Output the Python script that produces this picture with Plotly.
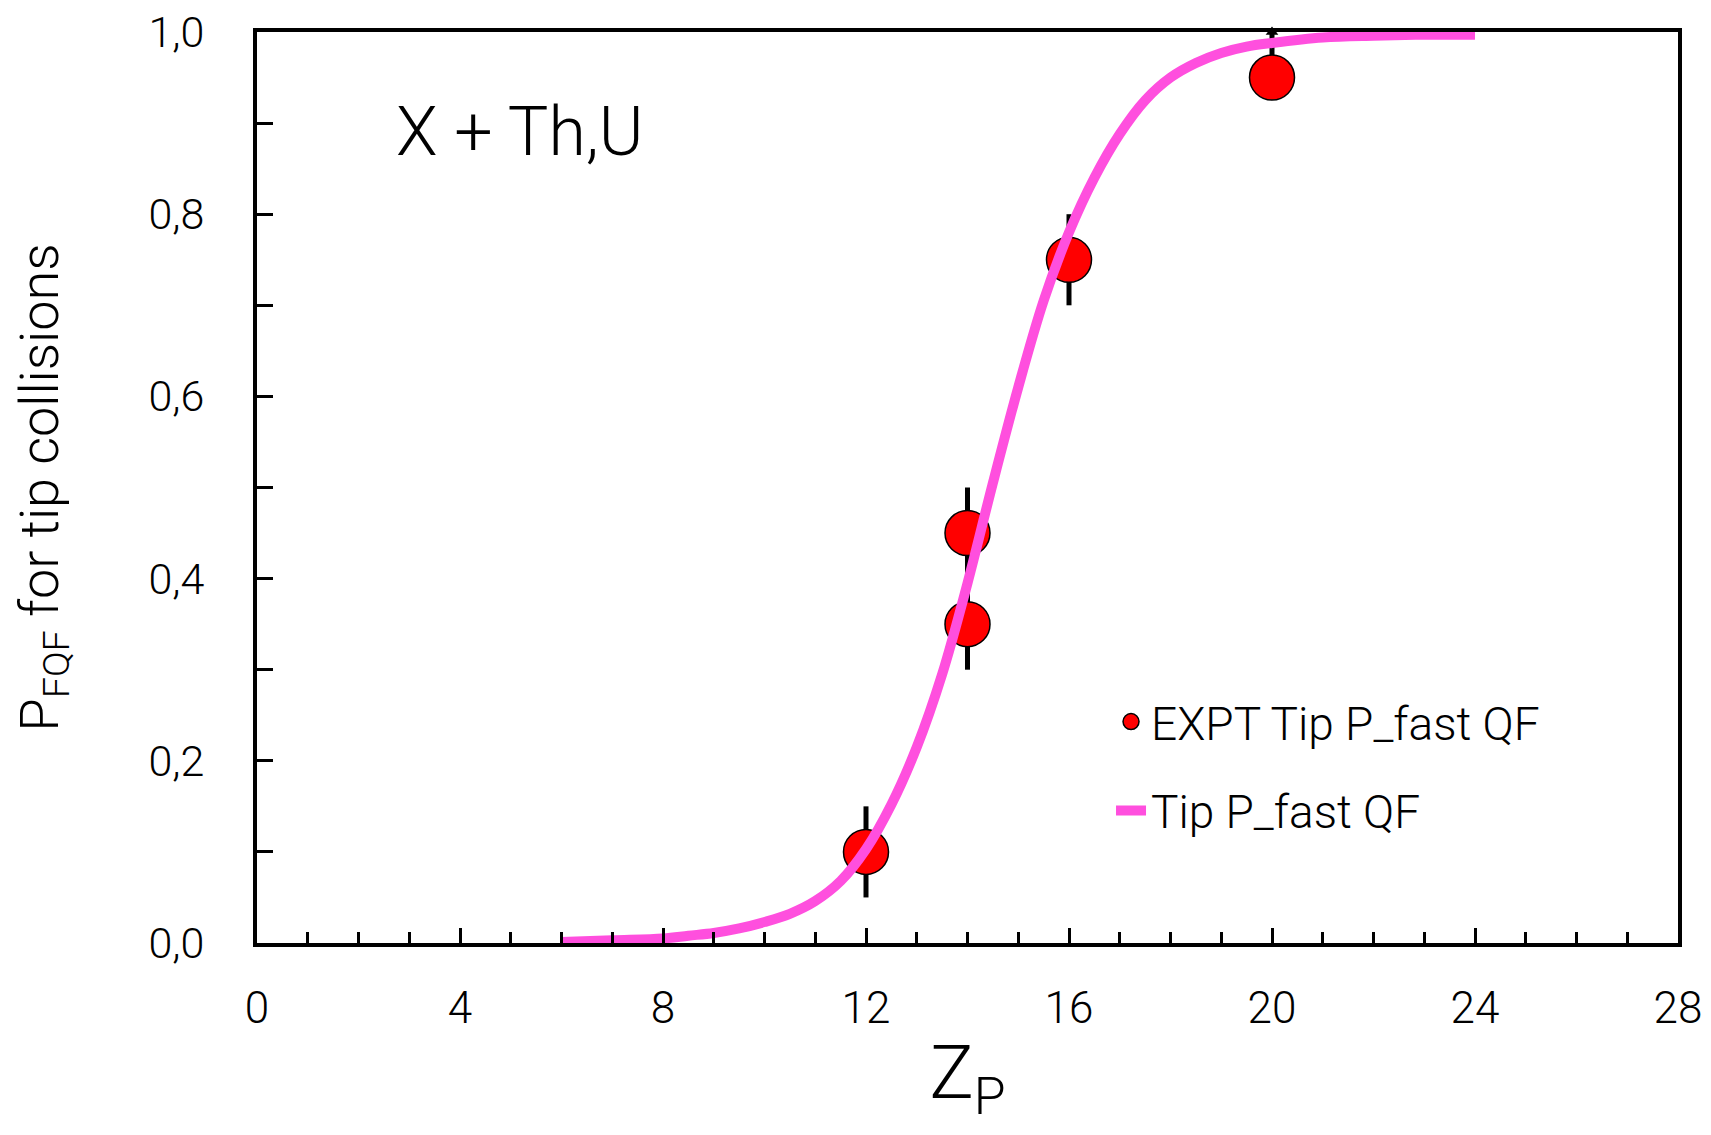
import plotly.graph_objects as go

# ---- data ----
expt_z = [12, 14, 14, 16, 20]
expt_p = [0.10, 0.35, 0.45, 0.75, 0.95]
expt_err_plus = [0.05, 0.05, 0.05, 0.05, 0.05]
expt_err_minus = [0.05, 0.05, 0.05, 0.05, 0.0]
expt_arrow_up = [False, False, False, False, True]

curve_z = [6, 7, 8, 8.5, 9, 9.5, 10, 10.5, 11, 11.5, 12, 12.5, 13, 13.5, 14, 14.5,
           15, 15.5, 16, 16.5, 17, 17.5, 18, 18.5, 19, 19.5, 20, 21, 22, 23, 24]
curve_p = [0.001, 0.003, 0.005, 0.008, 0.011, 0.016, 0.023, 0.032, 0.046, 0.068,
           0.103, 0.152, 0.215, 0.295, 0.395, 0.505, 0.61, 0.705, 0.78, 0.84,
           0.888, 0.925, 0.95, 0.966, 0.977, 0.984, 0.988, 0.994, 0.996, 0.997, 0.997]

x_ticks = [0, 4, 8, 12, 16, 20, 24, 28]
y_ticks = [0.0, 0.2, 0.4, 0.6, 0.8, 1.0]

FONT = "Roboto"
PINK = "#ff4fde"

fig = go.Figure()

# error bars (behind markers)
fig.add_trace(go.Scatter(
    x=expt_z, y=expt_p, mode="markers",
    marker=dict(size=1, color="rgba(0,0,0,0)"),
    error_y=dict(type="data", symmetric=False, array=expt_err_plus,
                 arrayminus=expt_err_minus, thickness=5, width=0, color="black"),
    showlegend=False, hoverinfo="skip", cliponaxis=False,
))
# arrow heads for lower limits
arr_x = [z for z, a in zip(expt_z, expt_arrow_up) if a]
arr_y = [p + e for p, e, a in zip(expt_p, expt_err_plus, expt_arrow_up) if a]
fig.add_trace(go.Scatter(
    x=arr_x, y=arr_y, mode="markers",
    marker=dict(symbol="triangle-up", size=11, color="black"),
    showlegend=False, hoverinfo="skip", cliponaxis=False,
))
# experimental points
fig.add_trace(go.Scatter(
    x=expt_z, y=expt_p, mode="markers", name="EXPT Tip P_fast QF",
    marker=dict(size=45, color="#ff0000", line=dict(color="black", width=1.5)),
    legendgroup="a", cliponaxis=False,
))
# model curve
fig.add_trace(go.Scatter(
    x=curve_z, y=curve_p, mode="lines", name="Tip P_fast QF",
    line=dict(color=PINK, width=10, shape="spline"),
    legendgroup="b", cliponaxis=False,
))

fig.add_annotation(
    x=2.7, y=0.89, xref="x", yref="y", text="X + Th,U", showarrow=False,
    xanchor="left", yanchor="middle",
    font=dict(family=FONT, size=68, color="black", weight=300),
)

fig.update_layout(
    width=1695, height=1119,
    margin=dict(l=249, r=25, t=24, b=184),
    paper_bgcolor="white", plot_bgcolor="white",
    separators=", ",
    font=dict(family=FONT, color="black", weight=300),
    legend=dict(
        x=0.601, y=0.283, xanchor="left", yanchor="top",
        font=dict(family=FONT, size=46, color="black", weight=300),
        bgcolor="rgba(0,0,0,0)", tracegroupgap=26, itemsizing="trace",
    ),
    showlegend=True,
)

fig.update_xaxes(
    range=[0, 28], tickvals=x_ticks, ticks="inside", ticklen=15, tickwidth=3,
    tickcolor="black", showline=True, linewidth=4, linecolor="black", mirror=True,
    showgrid=False, zeroline=False, automargin=False, ticklabeloverflow="allow",
    minor=dict(dtick=1, ticks="inside", ticklen=11, tickwidth=3, tickcolor="black", showgrid=False),
    tickfont=dict(family=FONT, size=44, color="black", weight=300),
    ticklabelstandoff=23,
    title=dict(text="Z<sub>P</sub>", font=dict(family=FONT, size=74, color="black", weight=300),
               standoff=36),
)
fig.update_yaxes(
    range=[0, 1], tickvals=y_ticks, tickformat=".1f", ticks="inside", ticklen=16,
    tickwidth=3, tickcolor="black", showline=True, linewidth=4, linecolor="black",
    mirror=True, showgrid=False, zeroline=False, automargin=False, ticklabeloverflow="allow",
    minor=dict(dtick=0.1, ticks="inside", ticklen=16, tickwidth=3, tickcolor="black", showgrid=False),
    tickfont=dict(family=FONT, size=43, color="black", weight=300),
    ticklabelstandoff=40,
    title=dict(text="P<sub>FQF</sub> for tip collisions",
               font=dict(family=FONT, size=54, color="black", weight=300), standoff=75),
)

fig.write_html("out.html")
